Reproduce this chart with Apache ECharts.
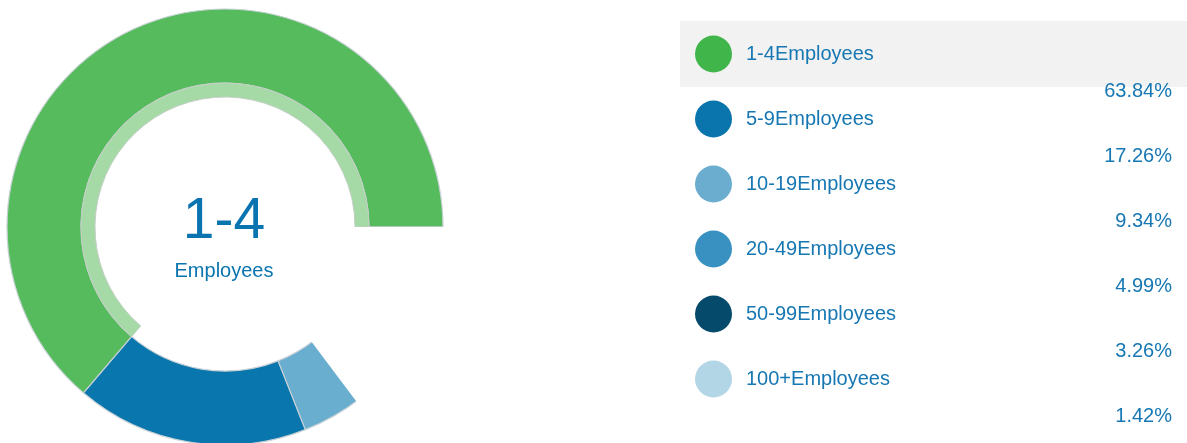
<!DOCTYPE html>
<html>
<head>
<meta charset="utf-8">
<script src="https://cdn.jsdelivr.net/npm/echarts@6/dist/echarts.min.js"></script>
<style>
  html, body { margin: 0; padding: 0; background: #fff; }
  #chart { width: 1187px; height: 443px; }
</style>
</head>
<body>
<div id="chart"></div>
<script>
// data
const sizeBands = ['1-4', '5-9', '10-19', '20-49', '50-99', '100+'];
const shares = [63.84, 17.26, 9.34, 4.99, 3.26, 1.42];
const sliceColors = ['#56bb5d', '#0a76ae', '#69adcf', '#3891c0', '#064a6b', '#b3d6e6'];
const legendColors = ['#40b54a', '#0a74ad', '#6aadce', '#3891c0', '#064a6b', '#b3d6e6'];
const activeIndex = 0;       // the hovered band (grey row + centre text)
const revealAngle = 307;     // ring was only drawn up to here in the shot

const names = sizeBands.map(b => b + 'Employees');
const font = '"Liberation Sans", Arial, sans-serif';
const textBlue = '#1677b3';
const center = [225, 227];

const chart = echarts.init(document.getElementById('chart'));

const option = {
  animation: false,
  textStyle: { fontFamily: font },
  legend: {
    orient: 'vertical',
    left: 695,
    top: 2,
    padding: 0,
    icon: 'circle',
    itemWidth: 37,
    itemHeight: 37,
    itemGap: -39,
    selectedMode: false,
    itemStyle: { borderWidth: 0 },
    data: names.map((n, i) => ({ name: n, itemStyle: { color: legendColors[i] } })),
    formatter: name => {
      const i = names.indexOf(name);
      return '{b| }\n{n|' + name + '}\n{p|' + shares[i].toFixed(2) + '%}';
    },
    textStyle: {
      rich: {
        b: { height: 30, lineHeight: 30, fontSize: 10 },
        n: { fontSize: 20, lineHeight: 44, height: 44, padding: [0, 0, 0, 9], color: textBlue, fontFamily: font },
        p: { fontSize: 20, lineHeight: 30, height: 30, width: 435, align: 'right', color: textBlue, fontFamily: font }
      }
    }
  },
  graphic: [
    {
      type: 'rect', silent: true, z: -10,
      shape: { x: 680, y: 21, width: 507, height: 66 },
      style: { fill: '#f2f2f2' }
    },
    {
      type: 'text', silent: true, z: 10,
      x: 224, y: 222,
      style: {
        text: sizeBands[activeIndex], fontSize: 57, fontFamily: font,
        fill: '#0a74b0', align: 'center', verticalAlign: 'middle'
      }
    },
    {
      type: 'text', silent: true, z: 10,
      x: 224, y: 271,
      style: {
        text: 'Employees', fontSize: 20, fontFamily: font,
        fill: '#0a74b0', align: 'center', verticalAlign: 'middle'
      }
    }
  ],
  series: [
    {
      name: 'Employees',
      type: 'pie',
      center: center,
      radius: [144, 218],
      startAngle: 0,
      clockwise: false,
      silent: true,
      label: { show: false },
      labelLine: { show: false },
      emphasis: { disabled: true },
      itemStyle: { borderColor: '#c9d2d6', borderWidth: 1.2 },
      data: names.map((n, i) => ({ name: n, value: shares[i], itemStyle: { color: sliceColors[i] } }))
    },
    {
      // lighter inner band under the hovered slice
      name: 'active',
      type: 'pie',
      center: center,
      radius: [130, 144],
      startAngle: 0,
      clockwise: false,
      silent: true,
      label: { show: false },
      labelLine: { show: false },
      emphasis: { disabled: true },
      data: names.map((n, i) => ({
        name: n,
        value: shares[i],
        itemStyle: i === activeIndex
          ? { color: '#a5d9a6', borderColor: '#c4cfc6', borderWidth: 1 }
          : { color: 'rgba(0,0,0,0)', borderWidth: 0 }
      }))
    },
    {
      // part of the ring not drawn yet in the shot
      name: 'mask',
      type: 'pie',
      center: center,
      radius: [120, 224],
      startAngle: 0,
      clockwise: false,
      silent: true,
      z: 5,
      label: { show: false },
      labelLine: { show: false },
      emphasis: { disabled: true },
      data: [
        { name: 'shown', value: revealAngle, itemStyle: { color: 'rgba(0,0,0,0)', borderWidth: 0 } },
        { name: 'hidden', value: 360 - revealAngle, itemStyle: { color: '#fff', borderWidth: 0 } }
      ]
    }
  ]
};

chart.setOption(option);
</script>
</body>
</html>
